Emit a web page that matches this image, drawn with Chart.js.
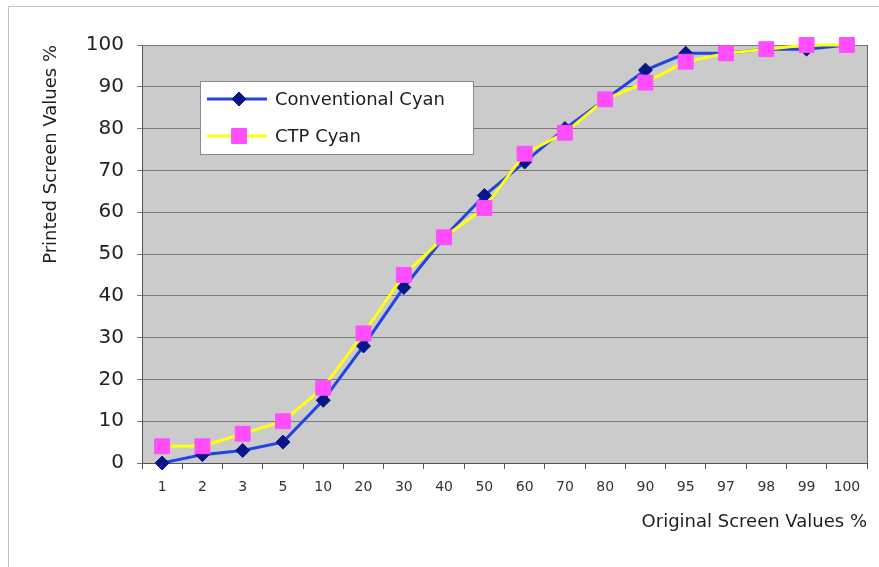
<!DOCTYPE html>
<html>
<head>
<meta charset="utf-8">
<script src="https://cdn.jsdelivr.net/npm/chart.js@4.4.1/dist/chart.umd.min.js"></script>
<style>
  html, body { margin: 0; padding: 0; background: #ffffff; }
  #wrap { width: 879px; height: 567px; }
</style>
</head>
<body>
<div id="wrap"><canvas id="chart" width="879" height="567"></canvas></div>
<script>
// Original screen values (%) along the x axis
const screenValues = ['1', '2', '3', '5', '10', '20', '30', '40', '50', '60', '70', '80', '90', '95', '97', '98', '99', '100'];

// Printed screen values (%) for each plate process
const conventionalCyan = [0, 2, 3, 5, 15, 28, 42, 54, 64, 72, 80, 87, 94, 98, 98, 99, 99, 100];
const ctpCyan = [4, 4, 7, 10, 18, 31, 45, 54, 61, 74, 79, 87, 91, 96, 98, 99, 100, 100];

// Y axis ticks
const yMin = 0;
const yMax = 100;
const yStep = 10;

const FONT = "'DejaVu Sans', sans-serif";

// Page frame and grey plot background
const backdrop = {
  id: 'backdrop',
  beforeDraw(chart) {
    const { ctx, chartArea: a } = chart;
    ctx.save();
    ctx.fillStyle = '#ffffff';
    ctx.fillRect(0, 0, chart.width, chart.height);
    ctx.strokeStyle = '#c4c4c4';
    ctx.lineWidth = 1;
    ctx.strokeRect(8.5, 6.5, chart.width + 20, chart.height + 20);
    ctx.fillStyle = '#cbcbcb';
    ctx.fillRect(a.left, a.top, a.right - a.left, a.bottom - a.top);
    ctx.restore();
  },
  afterDraw(chart) {
    const { ctx, chartArea: a } = chart;
    ctx.save();
    ctx.strokeStyle = '#666666';
    ctx.lineWidth = 1;
    ctx.beginPath();
    ctx.moveTo(a.right + 0.5, a.top);
    ctx.lineTo(a.right + 0.5, a.bottom);
    ctx.stroke();
    ctx.restore();
  }
};

// Boxed legend sitting inside the plot area
const boxLegend = {
  id: 'boxLegend',
  afterDatasetsDraw(chart) {
    const { ctx } = chart;
    const box = { x: 200, y: 81, w: 273, h: 73 };
    ctx.save();
    ctx.fillStyle = '#ffffff';
    ctx.fillRect(box.x, box.y, box.w, box.h);
    ctx.strokeStyle = '#8a8a8a';
    ctx.lineWidth = 1;
    ctx.strokeRect(box.x + 0.5, box.y + 0.5, box.w, box.h);
    const rows = [99, 136];
    chart.data.datasets.forEach((ds, i) => {
      const cy = rows[i];
      ctx.strokeStyle = ds.borderColor;
      ctx.lineWidth = ds.borderWidth;
      ctx.beginPath();
      ctx.moveTo(207, cy);
      ctx.lineTo(267, cy);
      ctx.stroke();
      ctx.fillStyle = ds.pointBackgroundColor;
      ctx.strokeStyle = ds.pointBorderColor;
      ctx.lineWidth = 1;
      Chart.helpers.drawPoint(ctx, {
        pointStyle: ds.pointStyle,
        radius: ds.pointRadius,
        borderWidth: 1,
        rotation: 0
      }, 239, cy);
      ctx.fillStyle = '#1e1e1e';
      ctx.font = '18px ' + FONT;
      ctx.textBaseline = 'middle';
      ctx.textAlign = 'left';
      ctx.fillText(ds.label, 275, cy + 1);
    });
    ctx.restore();
  }
};

new Chart(document.getElementById('chart'), {
  type: 'line',
  data: {
    labels: screenValues,
    datasets: [
      {
        label: 'Conventional Cyan',
        data: conventionalCyan,
        borderColor: '#2244e0',
        borderWidth: 3,
        pointStyle: 'rectRot',
        pointRadius: 7,
        pointBackgroundColor: '#08168a',
        pointBorderColor: '#08168a',
        pointBorderWidth: 1,
        tension: 0,
        clip: false,
        order: 2
      },
      {
        label: 'CTP Cyan',
        data: ctpCyan,
        borderColor: '#ffff10',
        borderWidth: 3,
        pointStyle: 'rect',
        pointRadius: 10.5,
        pointBackgroundColor: '#ff4dff',
        pointBorderColor: '#ff4dff',
        pointBorderWidth: 1,
        tension: 0,
        clip: false,
        order: 1
      }
    ]
  },
  options: {
    responsive: false,
    animation: false,
    devicePixelRatio: 1,
    layout: { padding: { top: 45, right: 12, bottom: 0, left: 0 } },
    plugins: {
      legend: { display: false },
      tooltip: { enabled: false }
    },
    scales: {
      x: {
        type: 'category',
        offset: true,
        grid: {
          offset: true,
          drawOnChartArea: false,
          drawTicks: true,
          tickLength: 6,
          color: '#555555'
        },
        border: { display: true, color: '#555555', width: 1 },
        ticks: {
          color: '#333333',
          font: { family: FONT, size: 14 },
          padding: 10,
          maxRotation: 0,
          autoSkip: false
        },
        title: {
          display: true,
          text: 'Original Screen Values %',
          align: 'end',
          color: '#1e1e1e',
          font: { family: FONT, size: 18 },
          padding: { top: 0, bottom: 34 }
        },
        afterFit(scale) { scale.height = 104; }
      },
      y: {
        min: yMin,
        max: yMax,
        grid: {
          color: '#7a7a7a',
          lineWidth: 1,
          drawTicks: true,
          tickLength: 5
        },
        border: { display: true, color: '#555555', width: 1 },
        ticks: {
          stepSize: yStep,
          color: '#222222',
          font: { family: FONT, size: 20 },
          padding: 13
        },
        title: {
          display: true,
          text: 'Printed Screen Values %',
          align: 'end',
          color: '#1e1e1e',
          font: { family: FONT, size: 18 },
          padding: { top: 41, bottom: 0 }
        },
        afterFit(scale) { scale.width = 142; }
      }
    }
  },
  plugins: [backdrop, boxLegend]
});
</script>
</body>
</html>
